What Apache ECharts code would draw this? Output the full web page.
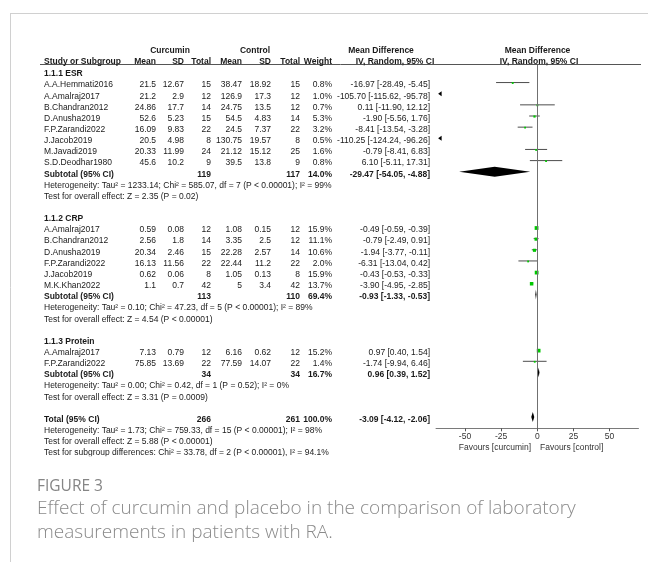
<!DOCTYPE html>
<html><head><meta charset="utf-8">
<script src="https://cdn.jsdelivr.net/npm/echarts@6/dist/echarts.min.js"></script>
<style>html,body{margin:0;padding:0;background:#fff}#c{width:648px;height:562px}</style>
</head><body><div id="c"></div>
<script>
// ---------------- DATA ----------------
const groupNames = ['1.1.1 ESR', '1.1.2 CRP', '1.1.3 Protein'];
const groupSizes = [8, 6, 2];
const studyNames = [
  'A.A.Hemmati2016','A.Amalraj2017','B.Chandran2012','D.Anusha2019','F.P.Zarandi2022','J.Jacob2019','M.Javadi2019','S.D.Deodhar1980',
  'A.Amalraj2017','B.Chandran2012','D.Anusha2019','F.P.Zarandi2022','J.Jacob2019','M.K.Khan2022',
  'A.Amalraj2017','F.P.Zarandi2022'
];
const curMean = [21.5, 21.2, 24.86, 52.6, 16.09, 20.5, 20.33, 45.6, 0.59, 2.56, 20.34, 16.13, 0.62, 1.1, 7.13, 75.85];
const curSD   = [12.67, 2.9, 17.7, 5.23, 9.83, 4.98, 11.99, 10.2, 0.08, 1.8, 2.46, 11.56, 0.06, 0.7, 0.79, 13.69];
const curN    = [15, 12, 14, 15, 22, 8, 24, 9, 12, 14, 15, 22, 8, 42, 12, 22];
const conMean = [38.47, 126.9, 24.75, 54.5, 24.5, 130.75, 21.12, 39.5, 1.08, 3.35, 22.28, 22.44, 1.05, 5, 6.16, 77.59];
const conSD   = [18.92, 17.3, 13.5, 4.83, 7.37, 19.57, 15.12, 13.8, 0.15, 2.5, 2.57, 11.2, 0.13, 3.4, 0.62, 14.07];
const conN    = [15, 12, 12, 14, 22, 8, 25, 9, 12, 12, 14, 22, 8, 42, 12, 22];
const weights = [0.8, 1.0, 0.7, 5.3, 3.2, 0.5, 1.6, 0.8, 15.9, 11.1, 10.6, 2.0, 15.9, 13.7, 15.2, 1.4];
const md      = [-16.97, -105.70, 0.11, -1.90, -8.41, -110.25, -0.79, 6.10, -0.49, -0.79, -1.94, -6.31, -0.43, -3.90, 0.97, -1.74];
const ciLow   = [-28.49, -115.62, -11.90, -5.56, -13.54, -124.24, -8.41, -5.11, -0.59, -2.49, -3.77, -13.04, -0.53, -4.95, 0.40, -9.94];
const ciHigh  = [-5.45, -95.78, 12.12, 1.76, -3.28, -96.26, 6.83, 17.31, -0.39, 0.91, -0.11, 0.42, -0.33, -2.85, 1.54, 6.46];

const subCurN   = [119, 113, 34];
const subConN   = [117, 110, 34];
const subWeight = [14.0, 69.4, 16.7];
const subMD     = [-29.47, -0.93, 0.96];
const subLow    = [-54.05, -1.33, 0.39];
const subHigh   = [-4.88, -0.53, 1.52];
const subHet = [
  'Heterogeneity: Tau\u00b2 = 1233.14; Chi\u00b2 = 585.07, df = 7 (P < 0.00001); I\u00b2 = 99%',
  'Heterogeneity: Tau\u00b2 = 0.10; Chi\u00b2 = 47.23, df = 5 (P < 0.00001); I\u00b2 = 89%',
  'Heterogeneity: Tau\u00b2 = 0.00; Chi\u00b2 = 0.42, df = 1 (P = 0.52); I\u00b2 = 0%'
];
const subTest = [
  'Test for overall effect: Z = 2.35 (P = 0.02)',
  'Test for overall effect: Z = 4.54 (P < 0.00001)',
  'Test for overall effect: Z = 3.31 (P = 0.0009)'
];
const totalCurN = 266, totalConN = 261, totalWeight = 100.0;
const totalMD = -3.09, totalLow = -4.12, totalHigh = -2.06;
const totalLines = [
  'Heterogeneity: Tau\u00b2 = 1.73; Chi\u00b2 = 759.33, df = 15 (P < 0.00001); I\u00b2 = 98%',
  'Test for overall effect: Z = 5.88 (P < 0.00001)',
  'Test for subgroup differences: Chi\u00b2 = 33.78, df = 2 (P < 0.00001), I\u00b2 = 94.1%'
];
const xTicks = [-50, -25, 0, 25, 50];
const xMin = -70, xMax = 70;
const favLeft = 'Favours [curcumin]', favRight = 'Favours [control]';
const figLabel = 'FIGURE 3';
const captionLines = ['Effect of curcumin and placebo in the comparison of laboratory', 'measurements in patients with RA.'];

// ---------------- LAYOUT ----------------
const ROW0 = 73.9, ROWH = 11.15, MARK_SHIFT = -2.5;
const rowY = k => ROW0 + ROWH * k;
const GRID_TOP = 65, GRID_BOTTOM_Y = 428.3;
const yMin = (GRID_TOP - (ROW0 + MARK_SHIFT)) / ROWH;
const yMax = (GRID_BOTTOM_Y - (ROW0 + MARK_SHIFT)) / ROWH;
const GRID_LEFT = 436.1, GRID_W = 202.3;

const FONT = '"Liberation Sans", Arial, sans-serif';
const FS = 8.5;
const TXT = '#1a1a1a';
const COL = {name: 44, cMean: 156, cSD: 184, cN: 211, tMean: 242, tSD: 271, tN: 300, w: 332, md: 430};

const graphics = [];
function T(x, y, text, opt) {
  opt = opt || {};
  graphics.push({
    type: 'text', x: x, y: y, silent: true, z: 10,
    style: {
      text: text, fontSize: opt.fs || FS, fontFamily: opt.ff || FONT,
      fontWeight: opt.fw || 'normal', fill: opt.color || TXT,
      align: opt.align || 'left', verticalAlign: 'middle'
    }
  });
}
function L(x1, y1, x2, y2, color, w) {
  graphics.push({type: 'line', silent: true, z: 5, shape: {x1, y1, x2, y2}, style: {stroke: color, lineWidth: w || 1}});
}
const f2 = v => v.toFixed(2);
const ciText = (m, l, h) => f2(m) + ' [' + f2(l) + ', ' + f2(h) + ']';

// frame
L(10, 13.5, 648, 13.5, '#d0d0d0', 1);
L(10.5, 13, 10.5, 562, '#d0d0d0', 1);

// headers
T(170, rowY(-2) - 0.5, 'Curcumin', {fw: 'bold', align: 'center'});
T(255, rowY(-2) - 0.5, 'Control', {fw: 'bold', align: 'center'});
T(381, rowY(-2) - 0.5, 'Mean Difference', {fw: 'bold', align: 'center'});
T(537.5, rowY(-2) - 0.5, 'Mean Difference', {fw: 'bold', align: 'center'});
const hy = rowY(-1) - 0.8;
T(COL.name, hy, 'Study or Subgroup', {fw: 'bold'});
T(COL.cMean, hy, 'Mean', {fw: 'bold', align: 'right'});
T(COL.cSD, hy, 'SD', {fw: 'bold', align: 'right'});
T(COL.cN, hy, 'Total', {fw: 'bold', align: 'right'});
T(COL.tMean, hy, 'Mean', {fw: 'bold', align: 'right'});
T(COL.tSD, hy, 'SD', {fw: 'bold', align: 'right'});
T(COL.tN, hy, 'Total', {fw: 'bold', align: 'right'});
T(COL.w, hy, 'Weight', {fw: 'bold', align: 'right'});
T(395, hy, 'IV, Random, 95% CI', {fw: 'bold', align: 'center'});
T(539, hy, 'IV, Random, 95% CI', {fw: 'bold', align: 'center'});
L(40, 64.5, 641, 64.5, '#555', 1);

// rows
const studyData = [];
const diamondData = [];
let k = 0, si = 0;
for (let g = 0; g < groupNames.length; g++) {
  T(COL.name, rowY(k), groupNames[g], {fw: 'bold'});
  k++;
  for (let j = 0; j < groupSizes[g]; j++, si++, k++) {
    const y = rowY(k);
    T(COL.name, y, studyNames[si]);
    T(COL.cMean, y, String(curMean[si]), {align: 'right'});
    T(COL.cSD, y, String(curSD[si]), {align: 'right'});
    T(COL.cN, y, String(curN[si]), {align: 'right'});
    T(COL.tMean, y, String(conMean[si]), {align: 'right'});
    T(COL.tSD, y, String(conSD[si]), {align: 'right'});
    T(COL.tN, y, String(conN[si]), {align: 'right'});
    T(COL.w, y, weights[si].toFixed(1) + '%', {align: 'right'});
    T(COL.md, y, ciText(md[si], ciLow[si], ciHigh[si]), {align: 'right'});
    studyData.push([md[si], ciLow[si], ciHigh[si], k, weights[si]]);
  }
  const y = rowY(k);
  T(COL.name, y, 'Subtotal (95% CI)', {fw: 'bold'});
  T(COL.cN, y, String(subCurN[g]), {fw: 'bold', align: 'right'});
  T(COL.tN, y, String(subConN[g]), {fw: 'bold', align: 'right'});
  T(COL.w, y, subWeight[g].toFixed(1) + '%', {fw: 'bold', align: 'right'});
  T(COL.md, y, ciText(subMD[g], subLow[g], subHigh[g]), {fw: 'bold', align: 'right'});
  diamondData.push([subMD[g], subLow[g], subHigh[g], k]);
  k++;
  T(COL.name, rowY(k), subHet[g]); k++;
  T(COL.name, rowY(k), subTest[g]); k++;
  k++; // blank
}
{
  const y = rowY(k);
  T(COL.name, y, 'Total (95% CI)', {fw: 'bold'});
  T(COL.cN, y, String(totalCurN), {fw: 'bold', align: 'right'});
  T(COL.tN, y, String(totalConN), {fw: 'bold', align: 'right'});
  T(COL.w, y, totalWeight.toFixed(1) + '%', {fw: 'bold', align: 'right'});
  T(COL.md, y, ciText(totalMD, totalLow, totalHigh), {fw: 'bold', align: 'right'});
  diamondData.push([totalMD, totalLow, totalHigh, k]);
  k++;
  for (let i = 0; i < totalLines.length; i++, k++) T(COL.name, rowY(k), totalLines[i]);
  // clipped bottom of the last line, as in the reference image
  graphics.push({type: 'rect', silent: true, z: 20, shape: {x: 38, y: rowY(k - 1) + 3.2, width: 300, height: 6}, style: {fill: '#fff'}});
}

// favours labels
T(531, 447.8, favLeft, {align: 'right', color: '#333'});
T(540, 447.8, favRight, {align: 'left', color: '#333'});

// caption
graphics.push({type: 'text', x: 37, y: 487, silent: true, z: 30, style: {text: figLabel, fontSize: 15.5, fontFamily: '"Open Sans", sans-serif', fill: '#858585', verticalAlign: 'middle'}});
graphics.push({type: 'text', x: 37, y: 509, silent: true, z: 30, style: {text: captionLines[0], fontSize: 19, fontWeight: 300, fontFamily: '"Open Sans", sans-serif', fill: '#8a8a8a', verticalAlign: 'middle'}});
graphics.push({type: 'text', x: 37, y: 533, silent: true, z: 30, style: {text: captionLines[1], fontSize: 19, fontWeight: 300, fontFamily: '"Open Sans", sans-serif', fill: '#8a8a8a', verticalAlign: 'middle'}});

// ---------------- RENDER ----------------
function renderStudy(params, api) {
  const m = api.value(0), lo = api.value(1), hi = api.value(2), row = api.value(3), w = api.value(4);
  const y = api.coord([0, row])[1];
  const ch = [];
  const lineColor = '#4d4d4d';
  if (hi > xMin && lo < xMax) {
    const x1 = api.coord([Math.max(lo, xMin), row])[0];
    const x2 = api.coord([Math.min(hi, xMax), row])[0];
    ch.push({type: 'line', shape: {x1, y1: y, x2, y2: y}, style: {stroke: lineColor, lineWidth: 1}});
  }
  if (lo < xMin) {
    const xe = api.coord([xMin, row])[0] + 2;
    ch.push({type: 'polygon', shape: {points: [[xe, y], [xe + 3.5, y - 2.5], [xe + 3.5, y + 2.5]]}, style: {fill: '#000'}});
  }
  if (hi > xMax) {
    const xe = api.coord([xMax, row])[0] - 2;
    ch.push({type: 'polygon', shape: {points: [[xe, y], [xe - 3.5, y - 2.5], [xe - 3.5, y + 2.5]]}, style: {fill: '#000'}});
  }
  if (m >= xMin && m <= xMax) {
    const s = Math.max(1.8, Math.sqrt(w) * 0.95);
    const xm = api.coord([m, row])[0];
    ch.push({type: 'rect', shape: {x: xm - s / 2, y: y - s / 2 + 0.5, width: s, height: s}, style: {fill: '#00c800'}});
  }
  return {type: 'group', children: ch};
}
function renderDiamond(params, api) {
  const m = api.value(0), lo = api.value(1), hi = api.value(2), row = api.value(3);
  const y = api.coord([0, row])[1];
  const xl = api.coord([lo, row])[0], xm = api.coord([m, row])[0], xh = api.coord([hi, row])[0];
  const h = 10;
  return {type: 'polygon', shape: {points: [[xl, y], [xm, y - h / 2], [xh, y], [xm, y + h / 2]]}, style: {fill: '#000'}};
}

const chart = echarts.init(document.getElementById('c'), null, {renderer: 'canvas'});
chart.setOption({
  animation: false,
  backgroundColor: '#fff',
  grid: {left: GRID_LEFT, top: GRID_TOP, width: GRID_W, height: GRID_BOTTOM_Y - GRID_TOP, containLabel: false},
  xAxis: {
    type: 'value', min: xMin, max: xMax, position: 'bottom',
    axisLine: {show: true, onZero: false, lineStyle: {color: '#7a7a7a', width: 1.2}},
    axisTick: {show: true, customValues: xTicks, length: 3, lineStyle: {color: '#555'}},
    axisLabel: {show: true, customValues: xTicks, fontSize: FS, fontFamily: FONT, color: '#333', margin: 4},
    splitLine: {show: false}
  },
  yAxis: {type: 'value', inverse: true, min: yMin, max: yMax, show: false, splitLine: {show: false}},
  series: [
    {
      type: 'custom', name: 'studies', data: studyData, renderItem: renderStudy, z: 3, clip: false,
      encode: {x: 0, y: 3},
      markLine: {
        silent: true, symbol: ['none', 'none'], animation: false,
        label: {show: false},
        lineStyle: {color: '#707070', width: 1, type: 'solid'},
        data: [{xAxis: 0}]
      }
    },
    {type: 'custom', name: 'pooled', data: diamondData, renderItem: renderDiamond, z: 4, clip: false, encode: {x: 0, y: 3}}
  ],
  graphic: {elements: graphics}
});
</script>
</body></html>
